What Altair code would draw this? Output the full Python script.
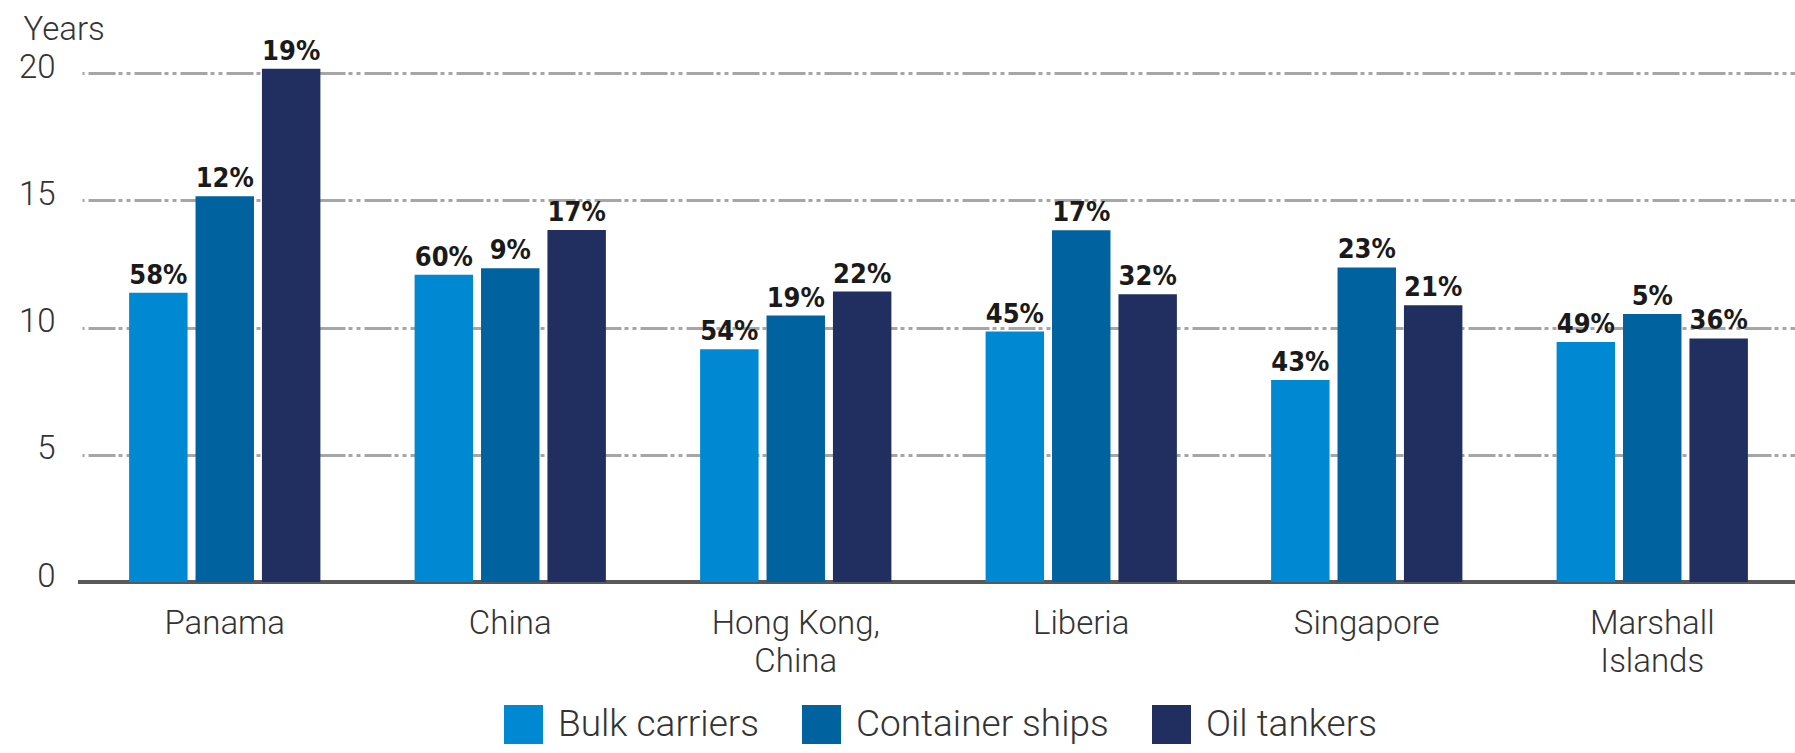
import altair as alt
import pandas as pd

countries = ["Panama", "China", "Hong Kong, China", "Liberia", "Singapore", "Marshall Islands"]
ship_types = ["Bulk carriers", "Container ships", "Oil tankers"]
colors = ["#0089D3", "#00629F", "#202F60"]

bulk_years = [11.37, 12.07, 9.15, 9.84, 7.94, 9.43]
container_years = [15.16, 12.33, 10.47, 13.82, 12.36, 10.53]
tanker_years = [20.17, 13.83, 11.41, 11.31, 10.87, 9.57]

bulk_pct = [58, 60, 54, 45, 43, 49]
container_pct = [12, 9, 19, 17, 23, 5]
tanker_pct = [19, 17, 22, 32, 21, 36]

y_ticks = [0, 5, 10, 15, 20]

rows = []
for i, c in enumerate(countries):
    for t, ys, ps in zip(ship_types,
                         [bulk_years, container_years, tanker_years],
                         [bulk_pct, container_pct, tanker_pct]):
        rows.append({"country": c, "type": t, "years": ys[i], "pct": f"{ps[i]}%"})
df = pd.DataFrame(rows)

W, H = 1713, 509

label_expr = ("datum.label == 'Hong Kong, China' ? ['Hong Kong,', 'China'] : "
              "datum.label == 'Marshall Islands' ? ['Marshall', 'Islands'] : datum.label")

x_enc = alt.X(
    "country:N", sort=countries,
    scale=alt.Scale(paddingInner=0.33, paddingOuter=0.165),
    axis=alt.Axis(title=None, labelAngle=0, domain=False, ticks=False,
                  labelPadding=25, labelFont="Roboto", labelFontSize=33,
                  labelFontWeight=300,
                  labelColor="#333333", labelLineHeight=38, labelBaseline="top",
                  labelExpr=label_expr),
)
xoff = alt.XOffset("type:N", sort=ship_types,
                   scale=alt.Scale(paddingInner=0.12, paddingOuter=0))
y_enc = alt.Y(
    "years:Q",
    scale=alt.Scale(domain=[0, 20], nice=False),
    axis=alt.Axis(values=y_ticks, title="Years", titleAngle=0, titleAlign="left",
                  titleBaseline="alphabetic", titleX=-59, titleY=-34,
                  titleFont="Roboto", titleFontSize=33, titleFontWeight=300,
                  titleColor="#333333", labelFont="Roboto", labelFontSize=33,
                  labelFontWeight=300,
                  labelColor="#333333", labelPadding=27, labelOffset=-6,
                  domain=False, ticks=False, grid=True, gridColor="#A6A6A6",
                  gridWidth=3, gridDash=[27, 3, 4, 4, 4, 4], gridDashOffset=40),
)

color_enc = alt.Color(
    "type:N", sort=ship_types,
    scale=alt.Scale(domain=ship_types, range=colors),
    legend=alt.Legend(title=None, orient="none", legendX=422, legendY=632,
                      direction="horizontal", symbolType="square", symbolSize=1521,
                      symbolStrokeWidth=0, labelFont="Roboto", labelFontSize=37,
                      labelFontWeight=300, labelLimit=0,
                      labelColor="#333333", columnPadding=43, labelOffset=15,
                      padding=0),
)

baseline = alt.Chart(pd.DataFrame({"v": [0]})).mark_rule(
    color="#595959", strokeWidth=4
).encode(x=alt.value(-4), x2=alt.value(W), y=alt.value(H))

bars = alt.Chart(df).mark_bar().encode(x=x_enc, xOffset=xoff, y=y_enc, color=color_enc)

labels = alt.Chart(df).mark_text(
    dy=-9, baseline="alphabetic",
    font="Liberation Sans Narrow, DejaVu Sans Condensed, sans-serif",
    fontSize=27, fontWeight="bold", color="#1a1a1a"
).encode(x=x_enc, xOffset=xoff, y=y_enc, text="pct:N")

chart = alt.layer(baseline, bars, labels).properties(
    width=W, height=H,
    padding={"left": 82, "top": 73, "right": 0, "bottom": 171},
    autosize=alt.AutoSizeParams(type="none"),
).configure_view(stroke=None)

chart.save("out.html", embed_options={"renderer": "svg", "actions": False})
